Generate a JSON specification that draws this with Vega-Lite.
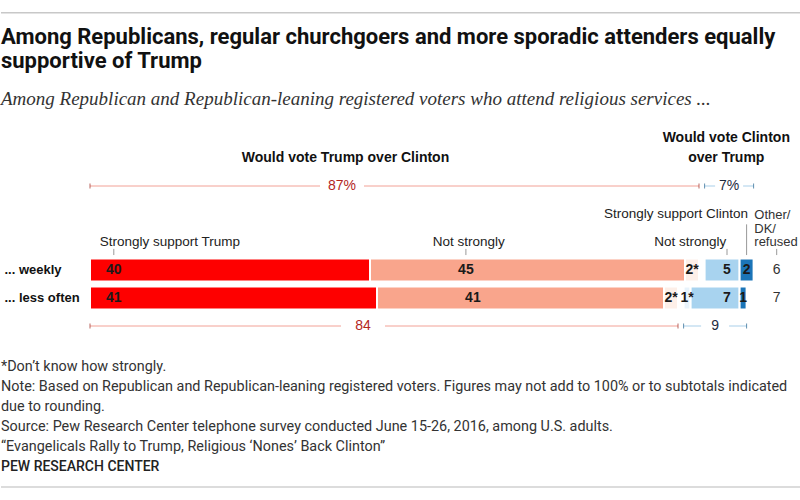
{
  "$schema": "https://vega.github.io/schema/vega-lite/v6.json",
  "padding": {"top": 12, "left": 0, "right": 0, "bottom": 0},
  "spacing": 6,
  "background": "white",
  "config": {
    "view": {"stroke": null},
    "font": "Liberation Sans",
    "axisX": {"disable": true}
  },
  "datasets": {
    "votes": [
      {"row": "weekly", "side": "Trump", "seg": "Trump strongly", "order": 1, "value": 40},
      {"row": "weekly", "side": "Trump", "seg": "Trump not strongly", "order": 2, "value": 45},
      {"row": "weekly", "side": "Trump", "seg": "Trump DK", "order": 3, "value": 2},
      {"row": "weekly", "side": "Clinton", "seg": "Clinton DK", "order": 4, "value": 0},
      {"row": "weekly", "side": "Clinton", "seg": "Clinton not strongly", "order": 5, "value": 5},
      {"row": "weekly", "side": "Clinton", "seg": "Clinton strongly", "order": 6, "value": 2},
      {"row": "weekly", "side": "Other", "seg": "Other/DK/refused", "order": 7, "value": 6},
      {"row": "less often", "side": "Trump", "seg": "Trump strongly", "order": 1, "value": 41},
      {"row": "less often", "side": "Trump", "seg": "Trump not strongly", "order": 2, "value": 41},
      {"row": "less often", "side": "Trump", "seg": "Trump DK", "order": 3, "value": 2},
      {"row": "less often", "side": "Clinton", "seg": "Clinton DK", "order": 4, "value": 1},
      {"row": "less often", "side": "Clinton", "seg": "Clinton not strongly", "order": 5, "value": 7},
      {"row": "less often", "side": "Clinton", "seg": "Clinton strongly", "order": 6, "value": 1},
      {"row": "less often", "side": "Other", "seg": "Other/DK/refused", "order": 7, "value": 7}
    ],
    "notes": [
      {"n": 1, "text": "*Don’t know how strongly."},
      {"n": 2, "text": "Note: Based on Republican and Republican-leaning registered voters. Figures may not add to 100% or to subtotals indicated"},
      {"n": 3, "text": "due to rounding."},
      {"n": 4, "text": "Source: Pew Research Center telephone survey conducted June 15-26, 2016, among U.S. adults."},
      {"n": 5, "text": "“Evangelicals Rally to Trump, Religious ‘Nones’ Back Clinton”"},
      {"n": 6, "text": "PEW RESEARCH CENTER"}
    ]
  },
  "vconcat": [
    {
      "width": 711,
      "height": 8,
      "data": {"values": [{"k": "rule"}]},
      "layer": [
        {
          "mark": {"type": "rect", "color": "#c8c8c8"},
          "encoding": {
            "x": {"datum": -0.1252, "type": "quantitative", "scale": {"domain": [0, 1]}, "axis": null},
            "x2": {"datum": 1},
            "y": {"datum": 1, "type": "quantitative", "scale": {"domain": [0, 1]}, "axis": null},
            "y2": {"datum": 0.82}
          }
        }
      ]
    },
    {
      "width": 711,
      "height": 196,
      "title": {
        "text": ["Among Republicans, regular churchgoers and more sporadic attenders equally", "supportive of Trump"],
        "subtitle": "Among Republican and Republican-leaning registered voters who attend religious services ...",
        "anchor": "start",
        "frame": "bounds",
        "font": "Roboto",
        "fontSize": 22,
        "fontWeight": "bold",
        "color": "#111",
        "lineHeight": 24,
        "subtitleFont": "Liberation Serif",
        "subtitleFontStyle": "italic",
        "subtitleFontSize": 19,
        "subtitleColor": "#333",
        "subtitlePadding": 17,
        "offset": 21
      },
      "data": {"name": "votes"},
      "transform": [
        {"stack": "value", "groupby": ["row"], "sort": [{"field": "order", "order": "ascending"}], "as": ["s0", "s1"]},
        {"calculate": "datum.side === 'Trump' ? 0 : 0.8", "as": "gap"},
        {"calculate": "datum.s0 + datum.gap", "as": "x0"},
        {"calculate": "datum.s1 + datum.gap", "as": "x1"},
        {"calculate": "datum.seg === 'Trump strongly' ? datum.x0 + 3.4 : datum.seg === 'Trump not strongly' ? datum.x0 + 13.7 : datum.seg === 'Clinton not strongly' ? datum.x1 - 1.8 : datum.side === 'Other' ? 98.1 : (datum.x0 + datum.x1) / 2", "as": "lx"},
        {"calculate": "datum.value + (datum.seg === 'Trump DK' || datum.seg === 'Clinton DK' ? '*' : '')", "as": "lab"}
      ],
      "encoding": {
        "y": {
          "field": "row",
          "type": "nominal",
          "scale": {
            "domain": ["h", "b", "s2", "s1", "weekly", "less often", "bb"],
            "paddingInner": 0.1786,
            "paddingOuter": 0.0893
          },
          "axis": {
            "title": null,
            "domain": false,
            "ticks": false,
            "labelExpr": "datum.value === 'weekly' ? '... weekly' : datum.value === 'less often' ? '... less often' : ''",
            "labelAlign": "left",
            "labelPadding": 86,
            "minExtent": 89,
            "maxExtent": 89,
            "labelFont": "Liberation Sans",
            "labelFontWeight": "bold",
            "labelFontSize": 13,
            "labelColor": "#111"
          }
        }
      },
      "layer": [
        {
          "transform": [{"filter": "datum.side !== 'Other'"}],
          "mark": {"type": "bar", "stroke": "white", "strokeWidth": 2},
          "encoding": {
            "x": {"field": "x0", "type": "quantitative", "scale": {"domain": [0, 101.571], "nice": false}, "axis": null},
            "x2": {"field": "x1"},
            "color": {
              "field": "seg",
              "type": "nominal",
              "scale": {
                "domain": ["Trump strongly", "Trump not strongly", "Trump DK", "Clinton DK", "Clinton not strongly", "Clinton strongly"],
                "range": ["#fe0000", "#f9a58c", "#fdefe8", "#e8f3fb", "#a8d3ef", "#1b75b8"]
              },
              "legend": null
            }
          }
        },
        {
          "transform": [{"filter": "datum.side !== 'Other' && datum.value > 0"}],
          "mark": {"type": "text", "fontWeight": "bold", "fontSize": 14, "color": "#1a1a1a", "baseline": "middle"},
          "encoding": {
            "x": {"field": "lx", "type": "quantitative"},
            "text": {"field": "lab"}
          }
        },
        {
          "transform": [{"filter": "datum.side === 'Other'"}],
          "mark": {"type": "text", "fontSize": 14, "color": "#333", "baseline": "middle"},
          "encoding": {
            "x": {"field": "lx", "type": "quantitative"},
            "text": {"field": "value"}
          }
        },
        {
          "transform": [{"filter": "datum.row === 'weekly' && (datum.seg === 'Trump strongly' || datum.seg === 'Trump not strongly' || datum.seg === 'Clinton not strongly' || datum.side === 'Other')"}],
          "mark": {"type": "rule", "color": "#999", "strokeWidth": 1},
          "encoding": {
            "x": {"field": "lx", "type": "quantitative"},
            "y": {"datum": "s1", "bandPosition": 0.8},
            "y2": {"datum": "weekly", "bandPosition": -0.15}
          }
        },
        {
          "transform": [{"filter": "datum.row === 'weekly' && datum.seg === 'Clinton strongly'"}],
          "mark": {"type": "rule", "color": "#999", "strokeWidth": 1},
          "encoding": {
            "x": {"field": "lx", "type": "quantitative"},
            "y": {"datum": "s2", "bandPosition": 0.95},
            "y2": {"datum": "weekly", "bandPosition": -0.15}
          }
        },
        {
          "transform": [{"filter": "datum.row === 'weekly' && datum.order === 1"}],
          "layer": [
            {
              "mark": {"type": "text", "text": "Would vote Trump over Clinton", "fontWeight": "bold", "fontSize": 14, "color": "#111", "baseline": "middle"},
              "encoding": {"x": {"datum": 36.5}, "y": {"datum": "h"}}
            },
            {
              "mark": {"type": "text", "text": ["Would vote Clinton", "over Trump"], "lineHeight": 20, "fontWeight": "bold", "fontSize": 14, "color": "#111", "baseline": "middle", "dy": -20},
              "encoding": {"x": {"datum": 90.9}, "y": {"datum": "h"}}
            },
            {
              "mark": {"type": "text", "text": "Strongly support Trump", "fontSize": 13.5, "color": "#222", "align": "left", "baseline": "middle"},
              "encoding": {"x": {"datum": 1.4}, "y": {"datum": "s1"}}
            },
            {
              "mark": {"type": "text", "text": "Not strongly", "fontSize": 13.5, "color": "#222", "baseline": "middle"},
              "encoding": {"x": {"datum": 54.1}, "y": {"datum": "s1"}}
            },
            {
              "mark": {"type": "text", "text": "Strongly support Clinton", "fontSize": 13.5, "color": "#222", "align": "right", "baseline": "middle"},
              "encoding": {"x": {"datum": 94.0}, "y": {"datum": "s2"}}
            },
            {
              "mark": {"type": "text", "text": "Not strongly", "fontSize": 13.5, "color": "#222", "align": "right", "baseline": "middle"},
              "encoding": {"x": {"datum": 90.9}, "y": {"datum": "s1"}}
            },
            {
              "mark": {"type": "text", "text": ["Other/", "DK/", "refused"], "lineHeight": 13.5, "fontSize": 13, "color": "#333", "align": "left", "baseline": "middle", "dy": -27},
              "encoding": {"x": {"datum": 94.9}, "y": {"datum": "s1"}}
            }
          ]
        },
        {
          "transform": [
            {"filter": "datum.side !== 'Other'"},
            {"aggregate": [
              {"op": "min", "field": "x0", "as": "bx0"},
              {"op": "max", "field": "x1", "as": "bx1"},
              {"op": "sum", "field": "value", "as": "total"}
            ], "groupby": ["row", "side"]},
            {"calculate": "datum.row === 'weekly' ? 'b' : 'bb'", "as": "brow"},
            {"calculate": "datum.row === 'weekly' ? datum.total + '%' : '' + datum.total", "as": "blabel"},
            {"calculate": "datum.side === 'Trump' ? (datum.row === 'weekly' ? 36 : 39) : (datum.bx0 + datum.bx1) / 2", "as": "blx"}
          ],
          "encoding": {"y": {"field": "brow", "type": "nominal"}},
          "layer": [
            {
              "mark": {"type": "rule", "strokeWidth": 1},
              "encoding": {
                "x": {"field": "bx0", "type": "quantitative"},
                "x2": {"field": "bx1"},
                "color": {"condition": {"test": "datum.side === 'Trump'", "value": "#f2a196"}, "value": "#a9cfe9"}
              }
            },
            {
              "transform": [{"fold": ["bx0", "bx1"], "as": ["end", "ex"]}],
              "mark": {"type": "tick", "orient": "vertical", "size": 5, "thickness": 1},
              "encoding": {
                "x": {"field": "ex", "type": "quantitative"},
                "color": {"condition": {"test": "datum.side === 'Trump'", "value": "#9e2a20"}, "value": "#1f5f8b"}
              }
            },
            {
              "mark": {"type": "point", "shape": "M-1,-0.32H1V0.32H-1Z", "filled": true, "fill": "white", "strokeWidth": 0, "opacity": 1},
              "encoding": {
                "x": {"field": "blx", "type": "quantitative"},
                "size": {"field": "side", "type": "nominal", "scale": {"domain": ["Trump", "Clinton"], "range": [1936, 784]}, "legend": null}
              }
            },
            {
              "mark": {"type": "text", "fontSize": 14, "baseline": "middle"},
              "encoding": {
                "x": {"field": "blx", "type": "quantitative"},
                "text": {"field": "blabel"},
                "color": {"condition": {"test": "datum.side === 'Trump'", "value": "#b3261e"}, "value": "#1d2b3e"}
              }
            }
          ]
        }
      ]
    },
    {
      "width": 711,
      "height": 151,
      "data": {"name": "notes"},
      "encoding": {
        "x": {"datum": -0.1252, "type": "quantitative", "scale": {"domain": [0, 1]}, "axis": null},
        "y": {
          "field": "n",
          "type": "ordinal",
          "scale": {"domain": [1, 2, 3, 4, 5, 6, 7], "paddingInner": 0, "paddingOuter": 0.275, "align": 1},
          "axis": null
        }
      },
      "layer": [
        {
          "transform": [{"filter": "datum.n <= 5"}],
          "mark": {"type": "text", "align": "left", "baseline": "middle", "fontSize": 14.4, "color": "#333", "font": "Roboto"},
          "encoding": {"text": {"field": "text"}}
        },
        {
          "transform": [{"filter": "datum.n === 6"}],
          "mark": {"type": "text", "align": "left", "baseline": "middle", "fontSize": 14, "fontWeight": 500, "color": "#222", "font": "Roboto"},
          "encoding": {"text": {"field": "text"}}
        },
        {
          "transform": [{"filter": "datum.n === 6"}],
          "mark": {"type": "rule", "color": "#d0d0d0", "strokeWidth": 1.5},
          "encoding": {
            "x2": {"datum": 1},
            "y": {"datum": 7}
          }
        }
      ]
    }
  ]
}
